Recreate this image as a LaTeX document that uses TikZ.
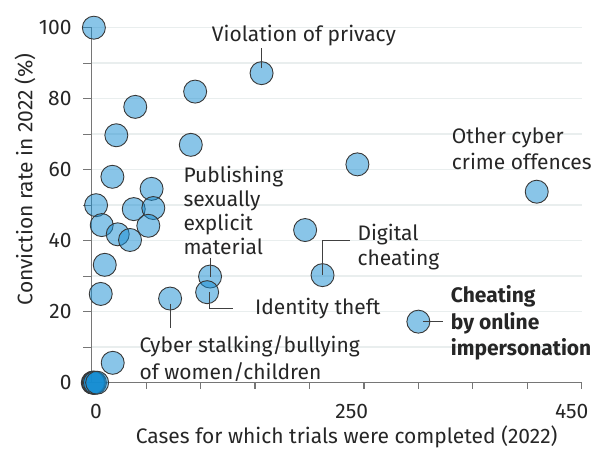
\documentclass[tikz,border=0pt]{standalone}
\usepackage{fontspec}
\setmainfont{Fira Sans}
\usetikzlibrary{positioning}
\definecolor{dotblue}{HTML}{148CD2}
\definecolor{gridgray}{HTML}{E9EEEE}
\definecolor{axisgray}{HTML}{767676}
\definecolor{inkgray}{HTML}{262626}
\begin{document}
\begin{tikzpicture}[x=1pt,y=1pt,
        dot/.style={circle,draw=black!78,line width=0.9pt,fill=dotblue,fill opacity=0.5,minimum size=23pt,inner sep=0pt},
        lbl/.style={text=inkgray,font=\fontsize{21}{25}\selectfont,align=left,inner sep=0pt},
        leader/.style={draw=black!75,line width=0.9pt}]
    \useasboundingbox (0,0) rectangle (594,449);
    \begin{scope}[shift={(91.7,66.3)},x=1.0889pt,y=3.55pt]
        \foreach \v in {10,20,...,100} \draw[gridgray,line width=1.6pt] (0,\v) -- (450,\v);
        \foreach \v in {0,10,...,100} \draw[axisgray,line width=1.2pt] (0,\v) -- ++(-8.5pt,0);
        \foreach \v in {50,100,...,450} \draw[axisgray,line width=1.2pt] (\v,0) -- ++(0,-6pt);
        \draw[axisgray,line width=1.3pt] (0,0) -- (0,100);
        \draw[axisgray,line width=1.3pt] (0,0) -- (450,0);
        \foreach \v in {0,20,...,100} \node[lbl,anchor=east] (ytick\v) at ([xshift=-20pt]0,\v) {\v};
        %\draw[red] (0,0) rectangle (450,100);
        % points
        \node[dot] (p1) at (2,100) {};
        \node[dot] (privacy) at (156,87.2) {};
        \node[dot] (p3) at (95,82) {};
        \node[dot] (p4) at (40,77.7) {};
        \node[dot] (p5) at (22.6,69.7) {};
        \node[dot] (p6) at (91,67) {};
        \node[dot] (p7) at (19,58) {};
        \node[dot] (p8) at (55,54.6) {};
        \node[dot] (p9) at (4,50) {};
        \node[dot] (p10) at (38.6,48.9) {};
        \node[dot] (p11) at (56.6,49.2) {};
        \node[dot] (p12) at (9.2,44.4) {};
        \node[dot] (p13) at (23.9,41.8) {};
        \node[dot] (p14) at (52,44.2) {};
        \node[dot] (p15) at (35.2,40.2) {};
        \node[dot] (p16) at (12,33.2) {};
        \node[dot] (p17) at (8.3,25) {};
        \node[dot] (stalking) at (72,23.7) {};
        \node[dot] (p19) at (19.3,5.6) {};
        \node[dot] (publishing) at (108.7,29.9) {};
        \node[dot] (identity) at (106,25.5) {};
        \node[dot] (p22) at (244,61.5) {};
        \node[dot] (p23) at (196,43) {};
        \node[dot] (digital) at (212,30.3) {};
        \node[dot] (other) at (408.7,53.8) {};
        \node[dot] (impersonation) at (300,17.2) {};
        \foreach \x [count=\i] in {1,1.5,2,3,5} \node[dot] (zero\i) at (\x,0) {};
    \end{scope}
    % labels
    \node[lbl,anchor=north west] (privacylbl) at (211.7,424) {Violation of privacy};
    \node[lbl,anchor=north west,font=\fontsize{21}{26}\selectfont] (otherlbl) at (451.7,321.7) {Other cyber\\crime offences};
    \node[lbl,anchor=north west,font=\fontsize{21}{24}\selectfont] (publishinglbl) at (183.3,283.3) {Publishing\\sexually\\explicit\\material};
    \node[lbl,anchor=north west] (digitallbl) at (357.3,225) {Digital\\cheating};
    \node[lbl,anchor=north west] (identitylbl) at (255,151) {Identity theft};
    \node[lbl,anchor=north west,font=\fontsize{21}{26.5}\selectfont] (stalkinglbl) at (139.3,113.3) {Cyber stalking/bullying\\of women/children};
    \node[lbl,anchor=north west,font=\fontsize{21}{26.5}\selectfont\bfseries] (impersonationlbl) at (450.7,163.3) {Cheating\\by online\\impersonation};
    % leaders
    \coordinate (privacytip) at ([yshift=24.7pt]privacy.center);
    \coordinate (publishingtip) at ([yshift=18.4pt]publishing.center);
    \coordinate (digitalbend) at ([yshift=35pt]digital.center);
    \coordinate (digitaltip) at ([xshift=27.3pt]digitalbend);
    \coordinate (identitybend) at ([xshift=2pt,yshift=-16.7pt]identity.center);
    \coordinate (identitytip) at ([xshift=24pt]identitybend);
    \coordinate (stalkingtip) at ([yshift=-29.7pt]stalking.center);
    \coordinate (impersonationtip) at ([xshift=25pt]impersonation.center);
    \draw[leader] ([yshift=5pt]privacy.center) -- (privacytip);
    \draw[leader] (publishing.center) -- (publishingtip);
    \draw[leader] (digital.center) -- (digitalbend) -- (digitaltip);
    \draw[leader] ([xshift=2pt]identity.center) -- (identitybend) -- (identitytip);
    \draw[leader] ([yshift=-5pt]stalking.center) -- (stalkingtip);
    \draw[leader] ([xshift=5pt]impersonation.center) -- (impersonationtip);
    % axes text
    \node[lbl] (xtick0) at (96,37.3) {0};
    \node[lbl] (xtick250) at (351.7,37.3) {250};
    \node[lbl] (xtick450) at (571.7,37.3) {450};
    \node[lbl] (xtitle) at (346.7,12.3) {Cases for which trials were completed (2022)};
    \node[lbl,rotate=90] (ytitle) at (25,269.5) {Conviction rate in 2022 (\%)};
\end{tikzpicture}
\end{document}
